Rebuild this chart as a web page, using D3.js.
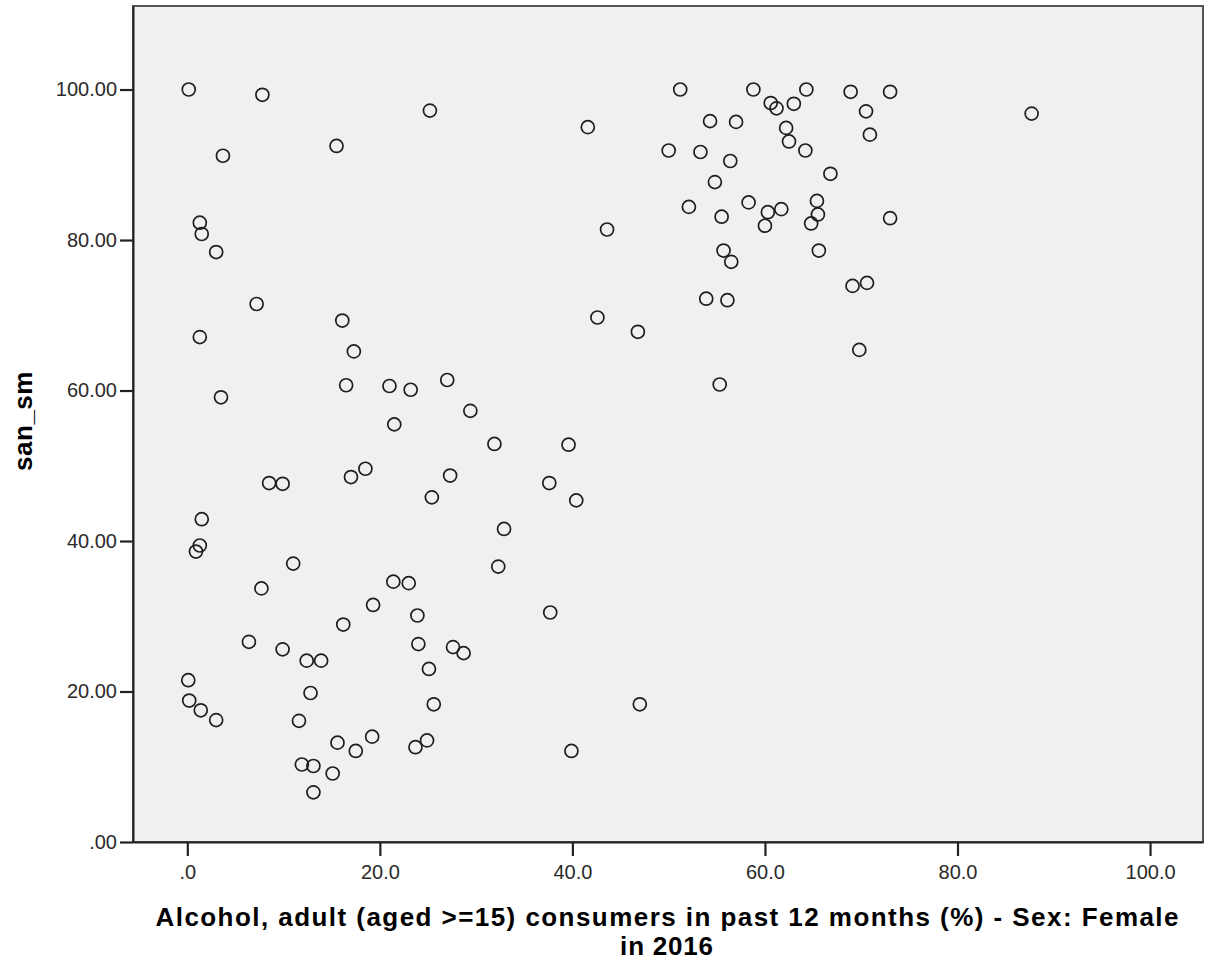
<!DOCTYPE html>
<html>
<head>
<meta charset="utf-8">
<script src="https://cdn.jsdelivr.net/npm/d3@7"></script>
<style>
  body { margin: 0; background: #fff; }
  text { font-family: "Liberation Sans", Arial, sans-serif; }
  .tick text { font-size: 20px; fill: #2a2a2a; }
  .axis-title { font-size: 26px; font-weight: bold; fill: #000; }
</style>
</head>
<body>
<div id="chart"></div>
<script>
// alcohol consumers, female (%) vs san_sm
const alcoholFemale = [
  0.15, 7.8, 25.2, 3.7, 15.5, 1.3, 1.5, 3.0, 7.2, 16.1, 1.3, 17.3,
  41.6, 51.2, 58.8, 64.3, 68.9, 73.0, 60.6, 61.2, 63.0, 70.5, 70.9, 54.3,
  57.0, 62.2, 62.5, 64.2, 50.0, 53.3, 56.4, 66.8, 54.8, 52.1, 55.5, 58.3,
  60.3, 61.7, 60.0, 65.4, 65.5, 64.8, 73.0, 43.6, 55.7, 56.5, 65.6, 69.1,
  70.6, 53.9, 56.1, 42.6, 46.8, 69.8, 87.7, 3.5, 16.5, 21.0, 23.2, 27.0,
  29.4, 21.5, 31.9, 18.5, 17.0, 8.5, 9.9, 27.3, 25.4, 32.9, 1.5, 1.3,
  0.9, 55.3, 39.6, 37.6, 40.4, 11.0, 32.3, 7.7, 21.4, 23.0, 19.3, 16.2,
  23.9, 24.0, 27.6, 28.7, 6.4, 9.9, 12.4, 13.9, 25.1, 12.8, 25.6, 0.1,
  0.2, 1.4, 3.0, 11.6, 15.6, 19.2, 17.5, 23.7, 24.9, 11.9, 13.1, 15.1,
  13.1, 37.7, 47.0, 39.9
];
const sanSm = [
  100.0, 99.3, 97.2, 91.2, 92.5, 82.3, 80.8, 78.4, 71.5, 69.3, 67.1, 65.2,
  95.0, 100.0, 100.0, 100.0, 99.7, 99.7, 98.2, 97.5, 98.1, 97.1, 94.0, 95.8,
  95.7, 94.9, 93.1, 91.9, 91.9, 91.7, 90.5, 88.8, 87.7, 84.4, 83.1, 85.0,
  83.7, 84.1, 81.9, 85.2, 83.4, 82.2, 82.9, 81.4, 78.6, 77.1, 78.6, 73.9,
  74.3, 72.2, 72.0, 69.7, 67.8, 65.4, 96.8, 59.1, 60.7, 60.6, 60.1, 61.4,
  57.3, 55.5, 52.9, 49.6, 48.5, 47.7, 47.6, 48.7, 45.8, 41.6, 42.9, 39.4,
  38.6, 60.8, 52.8, 47.7, 45.4, 37.0, 36.6, 33.7, 34.6, 34.4, 31.5, 28.9,
  30.1, 26.3, 25.9, 25.1, 26.6, 25.6, 24.1, 24.1, 23.0, 19.8, 18.3, 21.5,
  18.8, 17.5, 16.2, 16.1, 13.2, 14.0, 12.1, 12.6, 13.5, 10.3, 10.1, 9.1,
  6.6, 30.5, 18.3, 12.1
];
const xTicks = [0, 20, 40, 60, 80, 100];
const yTicks = [0, 20, 40, 60, 80, 100];
const xTitle = ["Alcohol, adult (aged >=15) consumers in past 12 months (%) - Sex: Female", "in 2016"];
const yTitle = "san_sm";

const data = alcoholFemale.map((v, i) => ({ x: v, y: sanSm[i] }));

const width = 1209, height = 972;
const plot = { left: 133, right: 1203, top: 6, bottom: 842 };

const svg = d3.select("#chart")
  .append("svg")
  .attr("width", width)
  .attr("height", height);

const xscale = d3.scaleLinear()
  .domain([-5.64, 105.5])
  .range([plot.left, plot.right]);

const yscale = d3.scaleLinear()
  .domain([0, 111.1])
  .range([plot.bottom, plot.top]);

// plot background + frame
svg.append("rect")
  .attr("x", plot.left)
  .attr("y", plot.top)
  .attr("width", plot.right - plot.left)
  .attr("height", plot.bottom - plot.top)
  .attr("fill", "#f0f0f0")
  .attr("stroke", "#555")
  .attr("stroke-width", 2);

const x_axis = d3.axisBottom(xscale)
  .tickValues(xTicks)
  .tickSize(14)
  .tickSizeOuter(0)
  .tickPadding(9)
  .tickFormat((d) => d === 0 ? ".0" : d.toFixed(1));

const y_axis = d3.axisLeft(yscale)
  .tickValues(yTicks)
  .tickSize(13)
  .tickSizeOuter(0)
  .tickPadding(3)
  .tickFormat((d) => d === 0 ? ".00" : d.toFixed(2));

const gx = svg.append("g")
  .attr("transform", `translate(0, ${plot.bottom})`)
  .call(x_axis);
const gy = svg.append("g")
  .attr("transform", `translate(${plot.left}, 0)`)
  .call(y_axis);

[gx, gy].forEach((g) => {
  g.select(".domain").attr("stroke", "#222").attr("stroke-width", 2);
  g.selectAll(".tick line").attr("stroke", "#222").attr("stroke-width", 2.2);
});

// points
svg.append("g")
  .selectAll("circle")
  .data(data)
  .join("circle")
  .attr("cx", (d) => xscale(d.x))
  .attr("cy", (d) => yscale(d.y))
  .attr("r", 6.5)
  .attr("fill", "none")
  .attr("stroke", "#1e1e1e")
  .attr("stroke-width", 1.7);

// titles
const cx = 667;
const xt = svg.append("text")
  .attr("class", "axis-title")
  .attr("text-anchor", "middle")
  .attr("y", 926);
xt.append("tspan")
  .attr("x", cx)
  .attr("textLength", 1023)
  .attr("lengthAdjust", "spacing")
  .text(xTitle[0]);
xt.append("tspan")
  .attr("x", cx)
  .attr("dy", 29)
  .attr("letter-spacing", 0.8)
  .text(xTitle[1]);

svg.append("text")
  .attr("class", "axis-title")
  .attr("text-anchor", "middle")
  .attr("letter-spacing", 0.5)
  .attr("transform", `translate(32, 421) rotate(-90)`)
  .text(yTitle);
</script>
</body>
</html>
